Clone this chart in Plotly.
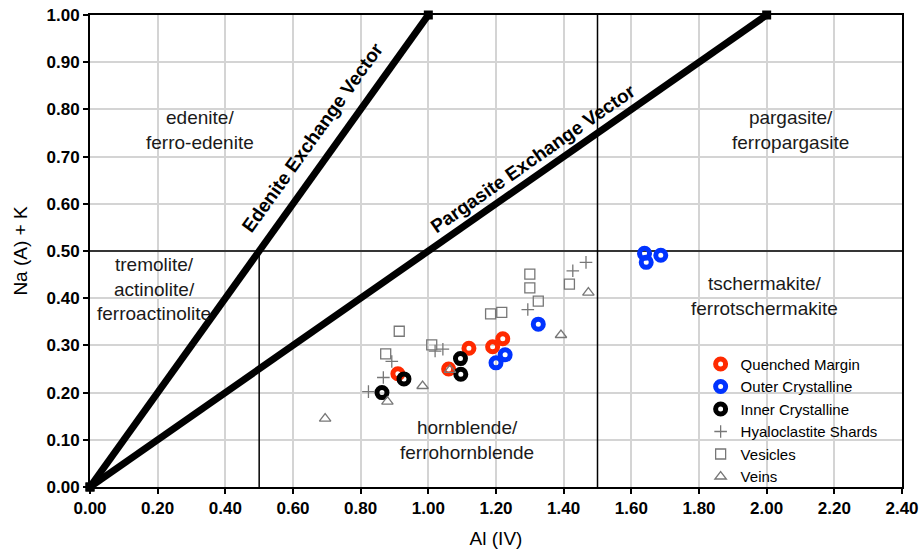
import plotly.graph_objects as go

# Data
quenched_x = [0.91, 1.06, 1.12, 1.19, 1.22]
quenched_y = [0.240, 0.250, 0.294, 0.297, 0.314]

outer_x = [1.20, 1.227, 1.325, 1.639, 1.644, 1.687]
outer_y = [0.263, 0.280, 0.345, 0.495, 0.476, 0.491]

inner_x = [0.863, 0.928, 1.095, 1.096]
inner_y = [0.200, 0.229, 0.272, 0.239]

shards_x = [0.823, 0.867, 0.892, 1.02, 1.043, 1.294, 1.427, 1.466]
shards_y = [0.202, 0.232, 0.266, 0.288, 0.292, 0.376, 0.458, 0.476]

vesicles_x = [0.874, 0.914, 1.01, 1.184, 1.217, 1.30, 1.30, 1.325, 1.417]
vesicles_y = [0.282, 0.330, 0.301, 0.367, 0.370, 0.451, 0.422, 0.394, 0.430]

veins_x = [0.695, 0.879, 0.983, 1.064, 1.392, 1.473]
veins_y = [0.145, 0.181, 0.214, 0.248, 0.322, 0.412]

edenite_vec_x = [0.0, 1.0]
edenite_vec_y = [0.0, 1.0]
pargasite_vec_x = [0.0, 2.0]
pargasite_vec_y = [0.0, 1.0]

x_ticks = [0.0, 0.2, 0.4, 0.6, 0.8, 1.0, 1.2, 1.4, 1.6, 1.8, 2.0, 2.2, 2.4]
y_ticks = [0.0, 0.1, 0.2, 0.3, 0.4, 0.5, 0.6, 0.7, 0.8, 0.9, 1.0]

fig = go.Figure()

# Field boundaries
fig.add_trace(go.Scatter(x=[0, 2.4], y=[0.5, 0.5], mode="lines",
                         line=dict(color="black", width=1.5), showlegend=False, hoverinfo="skip"))
fig.add_trace(go.Scatter(x=[0.5, 0.5], y=[0, 0.5], mode="lines",
                         line=dict(color="black", width=1.5), showlegend=False, hoverinfo="skip"))
fig.add_trace(go.Scatter(x=[1.5, 1.5], y=[0, 1.0], mode="lines",
                         line=dict(color="black", width=1.5), showlegend=False, hoverinfo="skip"))

# Exchange vectors
for vx, vy in [(edenite_vec_x, edenite_vec_y), (pargasite_vec_x, pargasite_vec_y)]:
    fig.add_trace(go.Scatter(x=vx, y=vy, mode="lines+markers",
                             line=dict(color="black", width=7),
                             marker=dict(symbol="square", size=9, color="black"),
                             showlegend=False, hoverinfo="skip", cliponaxis=False))

ring = dict(size=10, line=dict(width=5))
fig.add_trace(go.Scatter(x=quenched_x, y=quenched_y, mode="markers", name="Quenched Margin",
                         marker=dict(symbol="circle-open", color="#ff2a00", **ring)))
fig.add_trace(go.Scatter(x=outer_x, y=outer_y, mode="markers", name="Outer Crystalline",
                         marker=dict(symbol="circle-open", color="#0033ff", **ring)))
fig.add_trace(go.Scatter(x=inner_x, y=inner_y, mode="markers", name="Inner Crystalline",
                         marker=dict(symbol="circle-open", color="black", **ring)))
fig.add_trace(go.Scatter(x=shards_x, y=shards_y, mode="markers", name="Hyaloclastite Shards",
                         marker=dict(symbol="cross-thin-open", color="#777777", size=9,
                                     line=dict(width=1.3, color="#777777"))))
fig.add_trace(go.Scatter(x=vesicles_x, y=vesicles_y, mode="markers", name="Vesicles",
                         marker=dict(symbol="square-open", color="#777777", size=10,
                                     line=dict(width=1.3))))
fig.add_trace(go.Scatter(x=veins_x, y=veins_y, mode="markers", name="Veins",
                         marker=dict(symbol="triangle-up-open", color="#777777", size=10,
                                     line=dict(width=1.3))))

txt = dict(family="Arial", size=19, color="#1a1a1a")
fields = [
    (0.325, 0.757, "edenite/<br>ferro-edenite"),
    (2.07, 0.757, "pargasite/<br>ferropargasite"),
    (0.19, 0.42, "tremolite/<br>actinolite/<br>ferroactinolite"),
    (1.995, 0.405, "tschermakite/<br>ferrotschermakite"),
    (1.115, 0.10, "hornblende/<br>ferrohornblende"),
]
for x, y, t in fields:
    fig.add_annotation(x=x, y=y, text=t, showarrow=False, font=txt, align="center")

bold = dict(family="Arial", size=19, color="black")
fig.add_annotation(x=0.658, y=0.74, text="<b>Edenite Exchange Vector</b>", showarrow=False,
                   textangle=-54.4, font=bold)
fig.add_annotation(x=1.31, y=0.695, text="<b>Pargasite Exchange Vector</b>", showarrow=False,
                   textangle=-34.9, font=bold)

axis_common = dict(showgrid=True, gridcolor="#d4d4d4", gridwidth=1.5,
                   showline=True, linecolor="black", linewidth=2, mirror=True,
                   ticks="outside", ticklen=5, tickcolor="black", tickwidth=1.5,
                   tickfont=dict(family="Arial", size=17, color="black", weight="bold"),
                   zeroline=False, automargin=False)

fig.update_xaxes(range=[0, 2.4], tickvals=x_ticks, tickformat=".2f",
                 title=dict(text="Al (IV)", font=dict(family="Arial", size=19, color="black"),
                            standoff=14),
                 **axis_common)
fig.update_yaxes(range=[0, 1.0], tickvals=y_ticks, tickformat=".2f",
                 title=dict(text="Na (A) + K", font=dict(family="Arial", size=19, color="black"),
                            standoff=14),
                 **axis_common)

fig.update_layout(
    width=922, height=559,
    margin=dict(l=90, r=20, t=15, b=72, autoexpand=False),
    plot_bgcolor="white", paper_bgcolor="white",
    showlegend=True,
    legend=dict(x=0.752, y=0.295, xanchor="left", yanchor="top",
                bgcolor="rgba(0,0,0,0)", font=dict(family="Arial", size=15, color="black"),
                tracegroupgap=0, itemsizing="trace", itemwidth=30),
)

fig.write_html("out.html")
